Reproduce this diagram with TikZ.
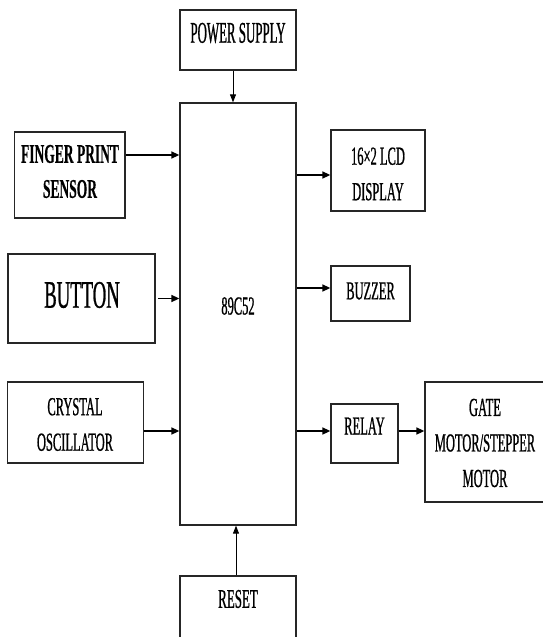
\documentclass[tikz,border=0pt]{standalone}
\usepackage{fontspec}
\setmainfont[FakeStretch=0.48,FakeBold=0.7]{Liberation Serif}
\newfontfamily\psfont[FakeStretch=0.43,FakeBold=0.7]{Liberation Serif}
\newfontfamily\bdfont[FakeStretch=0.5,FakeBold=0.3]{Liberation Serif Bold}
\usetikzlibrary{arrows.meta}
\begin{document}
\begin{tikzpicture}[x=1pt,y=-1pt,
  blk/.style={draw=black!85,line width=1.3pt,inner sep=0pt},
  txt/.style={inner sep=0pt,align=center,font=\fontsize{26}{35.5}\selectfont},
  arr/.style={line width=1.6pt,-{Triangle[length=8pt,width=7pt]}},
  thinarr/.style={line width=0.9pt,-{Triangle[length=8pt,width=6pt]}}]
\useasboundingbox (0,0) rectangle (542,637);
% boxes
\node[blk,minimum width=116pt,minimum height=60pt] (ps) at (238,40) {};
\node[blk,minimum width=116pt,minimum height=422pt] (mc) at (238,314) {};
\node[blk,minimum width=110.5pt,minimum height=86pt] (fp) at (69.75,175) {};
\node[blk,line width=2.3pt,minimum width=147pt,minimum height=89pt] (btn) at (81.75,298.5) {};
\node[blk,minimum width=136pt,minimum height=81pt] (cry) at (75.2,422.5) {};
\node[blk,minimum width=94pt,minimum height=81pt] (lcd) at (378,170.5) {};
\node[blk,minimum width=79pt,minimum height=55pt] (buz) at (370.5,293.5) {};
\node[blk,minimum width=67pt,minimum height=59pt] (rel) at (364.5,433.5) {};
\node[blk,minimum width=135pt,minimum height=120pt] (gate) at (492.5,442) {};
\node[blk,minimum width=116pt,minimum height=64pt] (rst) at (238,608) {};
% texts
\node[txt,font=\fontsize{30}{35}\psfont] (pst) at (238,33) {POWER SUPPLY};
\node[txt] (mct) at (238,306) {89C52};
\node[txt,font=\fontsize{27}{35}\bdfont] (fpt) at (70,171.5) {FINGER PRINT\\SENSOR};
\node[txt,font=\fontsize{39}{40}\selectfont] (btnt) at (82,295) {BUTTON};
\node[txt] (cryt) at (75,424.5) {CRYSTAL\\OSCILLATOR};
\node[txt] (lcdt) at (378,174) {16×2 LCD\\DISPLAY};
\node[txt] (buzt) at (370.5,291) {BUZZER};
\node[txt] (relt) at (364.5,426) {RELAY};
\node[txt] (gatet) at (485,443) {GATE\\MOTOR/STEPPER\\MOTOR};
\node[txt,font=\fontsize{27}{35}\selectfont] (rstt) at (238,599) {RESET};
% connectors
\draw[thinarr] ([xshift=-5pt]ps.south) -- ([xshift=-5pt]mc.north);
\draw[thinarr] ([xshift=-2pt]rst.north) -- ([xshift=-2pt]mc.south);
\draw[arr] ([yshift=20pt]fp.east) -- ([yshift=20pt]fp.east -| mc.west);
\draw[arr,shorten <=2pt] (btn.east) -- (btn.east -| mc.west);
\draw[arr] ([yshift=-8.5pt]cry.east) -- ([yshift=-8.5pt]cry.east -| mc.west);
\draw[arr] ([yshift=-4.5pt]lcd.west -| mc.east) -- ([yshift=-4.5pt]lcd.west);
\draw[arr] ([yshift=5.5pt]buz.west -| mc.east) -- ([yshift=5.5pt]buz.west);
\draw[arr] ([yshift=2.5pt]rel.west -| mc.east) -- ([yshift=2.5pt]rel.west);
\draw[arr] ([yshift=2.5pt]rel.east) -- ([yshift=2.5pt]rel.east -| gate.west);
\end{tikzpicture}
\end{document}
